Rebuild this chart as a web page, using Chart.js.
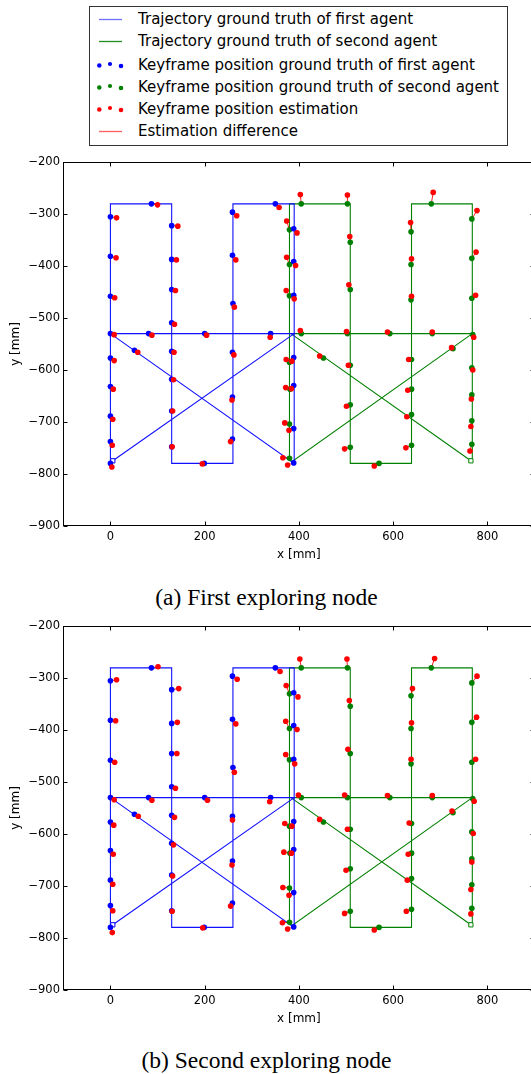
<!DOCTYPE html>
<html>
<head>
<meta charset="utf-8">
<script src="https://cdn.jsdelivr.net/npm/chart.js@4.4.1/dist/chart.umd.min.js"></script>
<style>
  html, body { margin: 0; padding: 0; background: #fff; overflow: hidden; width: 531px; height: 1074px; }
  #page { position: relative; width: 531px; height: 1074px; overflow: hidden; }
  .plot { position: absolute; left: 0; width: 545px; height: 420px; }
  .legend { position: absolute; left: 89px; top: 6px; width: 419px; height: 140px; box-sizing: border-box; border: 1px solid #333; background: #fff; }
  .row { position: absolute; left: 0; height: 18px; width: 531px; font-family: "DejaVu Sans", sans-serif; font-size: 15px; line-height: 18px; color: #000; }
  .row .txt { position: absolute; left: 138px; top: 0; white-space: nowrap; }
  .row svg { position: absolute; left: 94px; top: 0; width: 34px; height: 18px; overflow: visible; }
  .caption { position: absolute; left: 1px; width: 531px; text-align: center; font-family: "Liberation Serif", "Times New Roman", serif; font-size: 23.5px; line-height: 28px; color: #000; white-space: nowrap; }
</style>
</head>
<body>
<div id="page">
  <div class="plot" style="top:150px"><canvas id="chartA" width="545" height="420"></canvas></div>
  <div class="plot" style="top:614px"><canvas id="chartB" width="545" height="420"></canvas></div>
  <div class="legend"></div>
  <div id="legendRows"></div>
  <div class="caption" style="top:583px">(a) First exploring node</div>
  <div class="caption" style="top:1046px">(b) Second exploring node</div>
</div>
<script>
// Axis ticks
const xTickValues = [0, 200, 400, 600, 800];
const yTickValues = [-900, -800, -700, -600, -500, -400, -300, -200];

// Ground-truth trajectories [x, y] in mm
const trajectoryAgent1 = [[5,-775],[390,-530],[0,-530],[390,-780],[390,-280],[260,-280],[260,-780],[130,-780],[130,-280],[0,-280],[0,-780]];
const trajectoryAgent2 = [[765,-775],[383,-530],[768,-530],[388,-775],[380,-775],[380,-280],[509,-280],[509,-780],[639,-780],[639,-280],[768,-280],[768,-775]];

// Start markers
const startAgent1 = [[5,-775]];
const startAgent2 = [[765,-775]];

// Ground-truth keyframe positions
const keyframesAgent1 = [
  [0,-305],[87,-280],[0,-381],[0,-458],[0,-530],
  [130,-322],[130,-387],[130,-445],[130,-509],[81,-530],
  [200,-530],[259,-296],[259,-379],[260,-472],[340,-530],
  [350,-280],[389,-328],[389,-391],[389,-456],[389,-576],
  [389,-630],[389,-713],[389,-779],[51,-562],[0,-577],
  [0,-632],[0,-689],[0,-738],[0,-780],[130,-564],
  [130,-618],[130,-679],[130,-748],[199,-780],[259,-566],
  [259,-652],[259,-733]
];
const keyframesAgent2 = [
  [405,-280],[503,-280],[380,-330],[380,-397],[380,-457],
  [509,-354],[509,-445],[405,-530],[503,-530],[593,-530],
  [683,-530],[681,-280],[638,-334],[638,-397],[638,-465],
  [767,-309],[767,-385],[767,-462],[769,-532],[380,-585],
  [381,-637],[380,-704],[380,-770],[452,-577],[509,-591],
  [509,-667],[509,-749],[570,-780],[639,-580],[639,-637],
  [639,-686],[639,-745],[767,-596],[767,-648],[767,-698],
  [767,-743],[727,-559]
];

// Estimated keyframe positions, first exploring node
const estimateA1 = [
  [13,-307],[100,-282],[12,-384],[9,-461],[8,-532],
  [143,-323],[140,-388],[138,-447],[136,-512],[88,-533],
  [204,-533],[268,-303],[266,-388],[263,-479],[339,-537],
  [358,-287],[396,-336],[393,-399],[390,-463],[385,-583],
  [384,-636],[379,-716],[376,-783],[58,-566],[8,-582],
  [6,-637],[5,-695],[4,-745],[3,-787],[135,-566],
  [134,-619],[132,-679],[131,-748],[195,-781],[262,-571],
  [258,-658],[255,-738]
];
const estimateA2 = [
  [403,-262],[503,-263],[374,-313],[374,-383],[373,-447],
  [508,-343],[506,-436],[403,-524],[501,-526],[588,-527],
  [683,-527],[685,-258],[637,-316],[639,-386],[639,-458],
  [778,-293],[776,-373],[775,-456],[771,-537],[373,-580],
  [372,-634],[370,-702],[366,-769],[444,-573],[505,-591],
  [501,-670],[497,-752],[560,-785],[633,-580],[631,-639],
  [629,-690],[627,-750],[769,-600],[766,-656],[765,-709],
  [763,-756],[724,-557]
];

// Estimated keyframe positions, second exploring node
const estimateB1 = [
  [13,-303],[101,-278],[11,-382],[9,-462],[8,-534],
  [145,-320],[142,-385],[141,-445],[138,-512],[88,-535],
  [206,-535],[269,-302],[266,-388],[263,-481],[338,-538],
  [360,-287],[398,-336],[396,-399],[391,-465],[385,-585],
  [384,-637],[379,-718],[376,-783],[59,-566],[7,-583],
  [6,-639],[5,-697],[5,-748],[4,-790],[136,-568],
  [134,-621],[132,-681],[131,-749],[196,-781],[259,-573],
  [258,-660],[255,-739]
];
const estimateB2 = [
  [402,-263],[502,-263],[373,-314],[372,-383],[372,-447],
  [507,-343],[504,-437],[399,-525],[497,-525],[588,-526],
  [683,-526],[688,-262],[641,-320],[639,-386],[638,-456],
  [778,-296],[777,-375],[775,-456],[772,-537],[370,-580],
  [368,-635],[366,-703],[365,-771],[444,-572],[503,-591],
  [500,-670],[497,-753],[560,-785],[634,-579],[632,-639],
  [630,-689],[628,-749],[770,-599],[767,-654],[765,-707],
  [765,-754],[725,-556]
];

// Legend entries
const legendLabels = [
  'Trajectory ground truth of first agent',
  'Trajectory ground truth of second agent',
  'Keyframe position ground truth of first agent',
  'Keyframe position ground truth of second agent',
  'Keyframe position estimation',
  'Estimation difference'
];

const BLUE = '#0000ff', GREEN = '#008000', RED = '#ff0000';
const BLUE_LINE = '#1010ff', RED_LINE = 'rgba(255,0,0,0.9)';

Chart.defaults.font.family = '"DejaVu Sans", sans-serif';
Chart.defaults.color = '#000';

const pts = arr => arr.map(([x, y]) => ({ x, y }));

// gt -> estimate segments, separated by gaps
function differenceSegments(gt, est) {
  const out = [];
  gt.forEach(([x, y], i) => {
    out.push({ x, y }, { x: est[i][0], y: est[i][1] }, { x: null, y: null });
  });
  return out;
}

const fmt = v => (v < 0 ? '\u2212' + Math.abs(v) : String(v));

// Frame with inward ticks on all four sides
const frameTicks = {
  id: 'frameTicks',
  afterDatasetsDraw(chart) {
    const { ctx, chartArea: a, scales: { x, y } } = chart;
    const L = 4;
    const left = Math.round(a.left) + 0.5, right = Math.round(a.right) - 0.5;
    const top = Math.round(a.top) + 0.5, bottom = Math.round(a.bottom) - 0.5;
    ctx.save();
    ctx.strokeStyle = '#000';
    ctx.lineWidth = 1;
    ctx.beginPath();
    x.ticks.forEach(t => {
      const px = Math.round(x.getPixelForValue(t.value)) + 0.5;
      ctx.moveTo(px, bottom); ctx.lineTo(px, bottom - L);
      ctx.moveTo(px, top); ctx.lineTo(px, top + L);
    });
    y.ticks.forEach(t => {
      const py = Math.round(y.getPixelForValue(t.value)) + 0.5;
      ctx.moveTo(left, py); ctx.lineTo(left + L, py);
      ctx.moveTo(right, py); ctx.lineTo(right - L, py);
    });
    ctx.stroke();
    ctx.strokeRect(left, top, right - left, bottom - top);
    ctx.restore();
  }
};

function makeChart(id, est1, est2) {
  const lineDs = (data, color, order) => ({
    data: pts(data), showLine: true, borderColor: color, borderWidth: 1.1,
    pointRadius: 0, fill: false, order
  });
  const pointDs = (data, color, order) => ({
    data: pts(data), showLine: false, backgroundColor: color, borderWidth: 0,
    pointRadius: 2.8, order
  });
  new Chart(document.getElementById(id), {
    type: 'scatter',
    data: {
      datasets: [
        lineDs(trajectoryAgent1, BLUE_LINE, 6),
        lineDs(trajectoryAgent2, GREEN, 6),
        { data: differenceSegments(keyframesAgent1, est1), showLine: true, spanGaps: false,
          borderColor: RED_LINE, borderWidth: 1, pointRadius: 0, order: 5 },
        { data: differenceSegments(keyframesAgent2, est2), showLine: true, spanGaps: false,
          borderColor: RED_LINE, borderWidth: 1, pointRadius: 0, order: 5 },
        { data: pts(startAgent1), pointStyle: 'rect', pointRadius: 3, borderWidth: 1,
          borderColor: BLUE, backgroundColor: '#fff', order: 4 },
        { data: pts(startAgent2), pointStyle: 'rect', pointRadius: 3, borderWidth: 1,
          borderColor: GREEN, backgroundColor: '#fff', order: 4 },
        pointDs(keyframesAgent1, BLUE, 3),
        pointDs(keyframesAgent2, GREEN, 3),
        pointDs(est1, RED, 1),
        pointDs(est2, RED, 1)
      ]
    },
    options: {
      responsive: false,
      devicePixelRatio: 1,
      animation: false,
      events: [],
      layout: { padding: { top: 12.3, right: 10.5, bottom: 0, left: 0 } },
      plugins: { legend: { display: false }, tooltip: { enabled: false } },
      scales: {
        x: {
          type: 'linear', position: 'bottom', min: -100, max: 900,
          afterBuildTicks: s => { s.ticks = xTickValues.map(v => ({ value: v })); },
          afterFit: s => { s.height = 44.3; },
          grid: { display: false, drawTicks: false },
          border: { display: false },
          ticks: { padding: 4, color: '#000', font: { size: 11.5 }, callback: fmt, maxRotation: 0, autoSkip: false },
          title: { display: true, text: 'x [mm]', color: '#000', font: { size: 12 }, padding: { top: 0, bottom: 7.5 } }
        },
        y: {
          type: 'linear', position: 'left', min: -900, max: -200,
          afterBuildTicks: s => { s.ticks = yTickValues.map(v => ({ value: v })); },
          afterFit: s => { s.width = 63.3; },
          grid: { display: false, drawTicks: false },
          border: { display: false },
          ticks: { padding: 3.3, color: '#000', font: { size: 11.5 }, callback: fmt, autoSkip: false },
          title: { display: true, text: 'y [mm]', color: '#000', font: { size: 12 }, padding: { top: 8.8, bottom: 0 } }
        }
      }
    },
    plugins: [frameTicks]
  });
}

makeChart('chartA', estimateA1, estimateA2);
makeChart('chartB', estimateB1, estimateB2);

// Legend rows: centre line of each row, and its sample (svg, x relative to 94px)
const rowCenters = [19, 41, 64.5, 86.5, 108.5, 131];
const rowSamples = [
  { line: '#6f6fff' }, { line: '#1f8f1f' },
  { dots: BLUE }, { dots: GREEN }, { dots: RED },
  { line: '#ff5f5f' }
];
const SVG_NS = 'http://www.w3.org/2000/svg';
const rowsEl = document.getElementById('legendRows');
legendLabels.forEach((label, i) => {
  const row = document.createElement('div');
  row.className = 'row';
  row.style.top = (rowCenters[i] - 9) + 'px';
  const s = rowSamples[i];
  const svg = document.createElementNS(SVG_NS, 'svg');
  svg.setAttribute('width', '34');
  svg.setAttribute('height', '18');
  if (s.line) {
    const ln = document.createElementNS(SVG_NS, 'line');
    ln.setAttribute('x1', '5'); ln.setAttribute('x2', '28');
    ln.setAttribute('y1', '9.5'); ln.setAttribute('y2', '9.5');
    ln.setAttribute('stroke', s.line);
    ln.setAttribute('stroke-width', '1.3');
    svg.appendChild(ln);
  } else {
    [[5.3, 2.25, 0.5], [16, 2.1, -1], [27, 2.3, 1]].forEach(([cx, r, dy]) => {
      const c = document.createElementNS(SVG_NS, 'circle');
      c.setAttribute('cx', cx); c.setAttribute('cy', 9 + dy); c.setAttribute('r', r);
      c.setAttribute('fill', s.dots);
      svg.appendChild(c);
    });
  }
  row.appendChild(svg);
  const txt = document.createElement('span');
  txt.className = 'txt';
  txt.textContent = label;
  row.appendChild(txt);
  rowsEl.appendChild(row);
});
</script>
</body>
</html>
